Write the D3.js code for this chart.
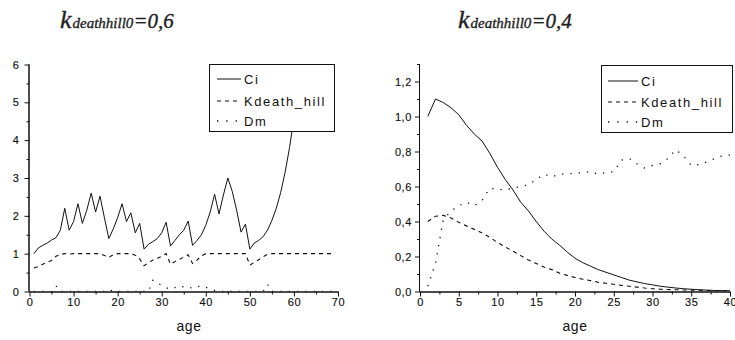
<!DOCTYPE html>
<html>
<head>
<meta charset="utf-8">
<script src="https://d3js.org/d3.v7.min.js"></script>
<style>
  body { margin: 0; background: #fff; }
  svg { display: block; }
  .tick-label { font: 11px "Liberation Sans", Arial, sans-serif; fill: #111; letter-spacing: 0.6px; stroke: #111; stroke-width: 0.15px; }
  .axis-title { font: 14px "Liberation Sans", Arial, sans-serif; fill: #111; letter-spacing: 0.5px; }
  .legend-text { font: 13px "Liberation Sans", Arial, sans-serif; fill: #111; letter-spacing: 1.6px; }
  .title { font-family: "Liberation Serif", "Times New Roman", serif; font-style: italic; fill: #222; stroke: #222; stroke-width: 0.35px; }
</style>
</head>
<body>
<svg id="chart" width="735" height="340"></svg>
<script>
// left panel, k = 0.6
var agesLeft = [1,2,3,4,5,6,7,8,9,10,11,12,13,14,15,16,17,18,19,20,21,22,23,24,25,26,27,28,29,30,
  31,32,33,34,35,36,37,38,39,40,41,42,43,44,45,46,47,48,49,50,51,52,53,54,55,56,57,58,59,60,
  61,62,63,64,65,66,67,68,69];
var ciLeft = [1.00,1.15,1.22,1.28,1.36,1.42,1.62,2.20,1.62,1.85,2.32,1.80,2.15,2.60,2.10,2.52,1.95,1.40,1.65,1.95,
  2.32,1.85,2.08,1.55,1.80,1.12,1.25,1.32,1.40,1.55,1.83,1.20,1.35,1.50,1.62,1.86,1.22,1.35,1.50,1.75,
  2.10,2.57,2.05,2.55,3.00,2.65,2.15,1.57,1.78,1.12,1.28,1.35,1.45,1.62,1.88,2.20,2.62,3.15,3.80,4.60,
  5.60,6.80,8.2,9.8,11.5,13.5,15.6,18.0,20.5];
var kdeathLeft = [0.62,0.66,0.72,0.77,0.82,0.93,0.98,1.00,0.99,1.00,1.00,1.00,1.00,1.00,1.00,1.00,0.95,0.90,0.97,1.00,
  1.00,1.00,1.00,0.96,0.86,0.68,0.76,0.83,0.88,0.93,1.00,0.72,0.79,0.85,0.91,0.97,0.74,0.83,0.94,1.00,
  1.00,1.00,1.00,1.00,1.00,1.00,1.00,1.00,1.00,0.70,0.77,0.84,0.92,0.98,1.00,1.00,1.00,1.00,1.00,1.00,
  1.00,1.00,1.00,1.00,1.00,1.00,1.00,1.00,1.00];
var dmLeft = [0,0,0,0,0,0.15,0,0,0,0,0,0,0,0,0,0,0,0.05,0,0,
  0,0,0,0,0.04,0,0,0.30,0.22,0.17,0.10,0.06,0.10,0.15,0.12,0.13,0.08,0.12,0.15,0.11,
  0.07,0.03,0,0,0,0,0,0,0,0,0,0,0,0.19,0,0,0,0,0,0,
  0,0,0,0,0,0,0,0,0];

// right panel, k = 0.4
var agesRight = [1,2,3,4,5,6,7,8,9,10,11,12,13,14,15,16,17,18,19,20,
  21,22,23,24,25,26,27,28,29,30,31,32,33,34,35,36,37,38,39,40];
var ciRight = [1.00,1.10,1.08,1.05,1.01,0.95,0.90,0.86,0.79,0.71,0.64,0.58,0.51,0.46,0.40,0.345,0.30,0.265,0.225,0.19,
  0.165,0.145,0.125,0.11,0.095,0.08,0.065,0.055,0.045,0.038,0.030,0.025,0.020,0.016,0.013,0.010,0.008,0.006,0.005,0.004];
var kdeathRight = [0.40,0.43,0.435,0.42,0.395,0.375,0.355,0.335,0.31,0.28,0.255,0.23,0.205,0.18,0.16,0.14,0.125,0.105,0.092,0.08,
  0.07,0.062,0.053,0.047,0.041,0.035,0.030,0.025,0.020,0.016,0.013,0.011,0.010,0.009,0.008,0.007,0.006,0.005,0.004,0.003];
var dmRight = [0.03,0.16,0.41,0.46,0.49,0.51,0.49,0.52,0.59,0.585,0.58,0.59,0.60,0.61,0.64,0.67,0.655,0.67,0.672,0.675,
  0.68,0.685,0.67,0.68,0.685,0.75,0.76,0.73,0.705,0.72,0.73,0.76,0.81,0.775,0.72,0.725,0.74,0.76,0.775,0.78];

var seriesNames = ["Ci", "Kdeath_hill", "Dm"];
var titleValues = ["0,6", "0,4"];
var xTicksLeft = [0,10,20,30,40,50,60,70];
var yTicksLeft = [0,1,2,3,4,5,6];
var xTicksRight = [0,5,10,15,20,25,30,35,40];
var yTicksRight = [0,0.2,0.4,0.6,0.8,1.0,1.2];

var svg = d3.select('#chart');
var fmt = function(d){ return d3.format('.1f')(d).replace('.', ','); };

// line styles per series: solid, dashed, dotted
var styles = [
  {dash: null, width: 1, legendDash: null},
  {dash: '4,4', width: 1.1, legendDash: '4,4'},
  {dash: '1.3,7', width: 1.3, legendDash: '1.3,8'}
];

function drawPanel(cfg) {
  var x = d3.scaleLinear().domain(cfg.xDomain).range(cfg.xRange);
  var y = d3.scaleLinear().domain(cfg.yDomain).range(cfg.yRange);
  var g = svg.append('g');

  var clipId = 'clip' + cfg.id;
  svg.append('clipPath').attr('id', clipId)
    .append('rect')
      .attr('x', cfg.xRange[0]).attr('y', cfg.yRange[1])
      .attr('width', cfg.xRange[1] - cfg.xRange[0] + 2)
      .attr('height', cfg.yRange[0] - cfg.yRange[1]);

  var line = d3.line()
    .x(function(d){ return x(d[0]); })
    .y(function(d){ return y(d[1]); });

  var series = [cfg.ci, cfg.kdeath, cfg.dm];
  series.forEach(function(vals, i){
    var pts = cfg.ages.map(function(a, j){ return [a, vals[j]]; });
    g.append('path')
      .attr('clip-path', 'url(#' + clipId + ')')
      .attr('d', line(pts))
      .attr('fill', 'none')
      .attr('stroke', '#111')
      .attr('stroke-width', styles[i].width)
      .attr('stroke-dasharray', styles[i].dash);
  });

  // axes: major ticks labelled, minor ticks between
  var xAxis = d3.axisBottom(x).tickValues(cfg.xTicks).tickSize(5).tickFormat(d3.format('d'));
  var xMinor = d3.axisBottom(x).tickValues(cfg.xMinor).tickSize(3).tickFormat('');
  var yAxis = d3.axisLeft(y).tickValues(cfg.yTicks).tickSize(5).tickFormat(cfg.yFormat);
  var yMinor = d3.axisLeft(y).tickValues(cfg.yMinor).tickSize(3).tickFormat('');

  [[xAxis, 'x'], [xMinor, 'x'], [yAxis, 'y'], [yMinor, 'y']].forEach(function(a){
    var ag = g.append('g')
      .attr('transform', a[1] === 'x' ? 'translate(0,' + cfg.yRange[0] + ')' : 'translate(' + cfg.xRange[0] + ',0)')
      .call(a[0]);
    ag.select('.domain').attr('stroke', '#111').attr('stroke-width', 1)
      .attr('d', a[1] === 'x'
        ? 'M' + cfg.xRange[0] + ',0.5H' + cfg.xRange[1]
        : 'M-0.5,' + cfg.yRange[0] + 'V' + cfg.yRange[1]);
    ag.selectAll('line').attr('stroke', '#111');
    ag.selectAll('text').attr('class', 'tick-label').attr('fill', null);
    if (a[1] === 'x') ag.selectAll('text').attr('y', 7);
    else ag.selectAll('text').attr('x', -cfg.yLabelGap);
  });

  svg.append('text').attr('class', 'axis-title')
    .attr('x', cfg.xTitleX).attr('y', 331)
    .attr('text-anchor', 'middle').text('age');

  // title: k with subscript
  var t = svg.append('text').attr('class', 'title')
    .attr('x', cfg.titleX).attr('y', 28);
  t.append('tspan').attr('font-size', 26).text('k');
  t.append('tspan').attr('font-size', 15).attr('dx', 1).text('deathhill0');
  t.append('tspan').attr('font-size', 21).text('=' + cfg.titleValue);

  // legend box
  var lg = svg.append('g').attr('transform', 'translate(' + cfg.legend.x + ',' + cfg.legend.y + ')');
  lg.append('rect')
    .attr('x', 0.5).attr('y', 0.5)
    .attr('width', cfg.legend.w).attr('height', cfg.legend.h)
    .attr('fill', '#fff').attr('stroke', '#111').attr('stroke-width', 1);
  seriesNames.forEach(function(name, i){
    var ly = cfg.legend.rows[i];
    lg.append('line')
      .attr('x1', cfg.legend.s0).attr('x2', cfg.legend.s1)
      .attr('y1', ly).attr('y2', ly)
      .attr('stroke', '#111')
      .attr('stroke-width', styles[i].width)
      .attr('stroke-dasharray', styles[i].legendDash);
    lg.append('text').attr('class', 'legend-text')
      .attr('x', cfg.legend.s1 + 3).attr('y', ly + 5)
      .text(name);
  });
}

drawPanel({
  id: 'L', ages: agesLeft, ci: ciLeft, kdeath: kdeathLeft, dm: dmLeft,
  xDomain: [0, 70], xRange: [29.5, 338],
  yDomain: [0, 6], yRange: [291.5, 64.5],
  xTicks: xTicksLeft, xMinor: [5,15,25,35,45,55,65],
  yTicks: yTicksLeft, yMinor: [0.5,1.5,2.5,3.5,4.5,5.5],
  yFormat: d3.format('d'), yLabelGap: 10,
  xTitleX: 189, titleX: 60, titleValue: titleValues[0],
  legend: {x: 209, y: 64, w: 125, h: 67, rows: [15, 37, 57], s0: 8, s1: 32}
});

drawPanel({
  id: 'R', ages: agesRight, ci: ciRight, kdeath: kdeathRight, dm: dmRight,
  xDomain: [0, 40], xRange: [420, 730],
  yDomain: [0, 1.3], yRange: [291.5, 64],
  xTicks: xTicksRight, xMinor: [2.5,7.5,12.5,17.5,22.5,27.5,32.5,37.5],
  yTicks: yTicksRight, yMinor: [0.1,0.3,0.5,0.7,0.9,1.1,1.3],
  yFormat: fmt, yLabelGap: 8,
  xTitleX: 575, titleX: 458, titleValue: titleValues[1],
  legend: {x: 601, y: 65, w: 131, h: 67, rows: [16, 37, 57], s0: 7, s1: 37}
});
</script>
</body>
</html>
